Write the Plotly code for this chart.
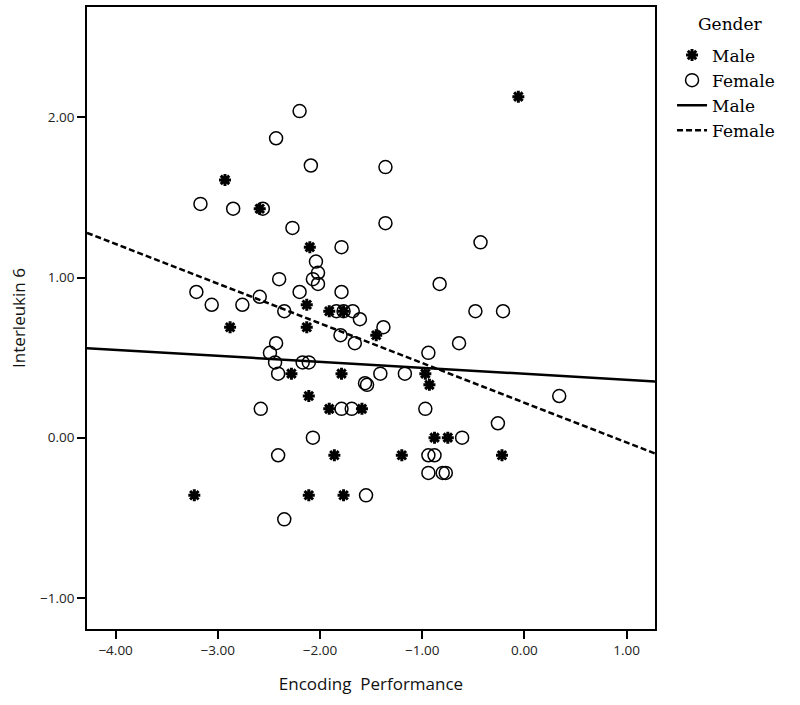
import plotly.graph_objects as go

# Male (asterisk) data
male_x = [-0.06, -2.93, -2.59, -2.10, -2.88, -2.13, -2.13, -1.91, -1.77, -1.45,
          -2.28, -1.79, -2.11, -1.91, -1.59, -0.97, -0.93, -1.86, -3.23, -2.11,
          -1.77, -0.88, -0.75, -1.20, -0.22]
male_y = [2.13, 1.61, 1.43, 1.19, 0.69, 0.83, 0.69, 0.79, 0.79, 0.64,
          0.40, 0.40, 0.26, 0.18, 0.18, 0.40, 0.33, -0.11, -0.36, -0.36,
          -0.36, 0.00, 0.00, -0.11, -0.11]

# Female (open circle) data
female_x = [-2.20, -2.43, -2.09, -3.17, -2.85, -2.56, -2.27, -1.79, -1.36, -1.36,
            -0.43, -2.04, -2.02, -2.07, -2.02, -2.40, -3.21, -3.06, -2.76, -2.59,
            -2.20, -1.79, -2.35, -1.84, -1.77, -1.68, -1.61, -1.80, -1.66, -2.43,
            -2.49, -2.44, -2.41, -2.17, -2.11, -1.56, -1.54, -1.41, -2.58, -1.79,
            -1.69, -2.07, -0.83, -0.48, -0.21, -1.38, -0.64, -0.94, -1.17, 0.34,
            -0.97, -0.26, -0.61, -2.41, -2.35, -0.94, -0.88, -0.94, -0.80, -0.77,
            -1.55]
female_y = [2.04, 1.87, 1.70, 1.46, 1.43, 1.43, 1.31, 1.19, 1.69, 1.34,
            1.22, 1.10, 1.03, 0.99, 0.96, 0.99, 0.91, 0.83, 0.83, 0.88,
            0.91, 0.91, 0.79, 0.79, 0.79, 0.79, 0.74, 0.64, 0.59, 0.59,
            0.53, 0.47, 0.40, 0.47, 0.47, 0.34, 0.33, 0.40, 0.18, 0.18,
            0.18, 0.00, 0.96, 0.79, 0.79, 0.69, 0.59, 0.53, 0.40, 0.26,
            0.18, 0.09, 0.00, -0.11, -0.51, -0.11, -0.11, -0.22, -0.22, -0.22,
            -0.36]

# Fit line coefficients (intercept, slope)
fit_names = ["Male", "Female"]
fit_intercept = [0.399, 0.218]
fit_slope = [-0.0374, -0.248]

x_range = [-4.28, 1.277]
y_range = [-1.195, 2.69]
x_ticks = [-4, -3, -2, -1, 0, 1]
y_ticks = [-1, 0, 1, 2]

fig = go.Figure()

fig.add_trace(go.Scatter(
    x=male_x, y=male_y, mode="markers", name="Male",
    marker=dict(symbol="asterisk-open", size=10, color="black",
                line=dict(width=3, color="black")),
))
fig.add_trace(go.Scatter(
    x=female_x, y=female_y, mode="markers", name="Female",
    marker=dict(symbol="circle-open", size=13, color="black",
                line=dict(width=1.5, color="black")),
))

dashes = ["solid", "6px,3px"]
for name, b0, b1, d in zip(fit_names, fit_intercept, fit_slope, dashes):
    xs = x_range
    ys = [b0 + b1 * v for v in xs]
    fig.add_trace(go.Scatter(
        x=xs, y=ys, mode="lines", name=name,
        line=dict(color="black", width=2.5, dash=d),
    ))

axis_common = dict(
    showline=True, linecolor="black", linewidth=1.5, mirror=True,
    ticks="outside", ticklen=8, tickwidth=1.5, tickcolor="black",
    showgrid=False, zeroline=False, tickformat=".2f",
    tickfont=dict(family="Open Sans", size=13.5, color="#222"),
)

fig.update_layout(
    width=800, height=705,
    margin=dict(l=87, r=145, t=5, b=76),
    paper_bgcolor="white", plot_bgcolor="white",
    xaxis=dict(range=x_range, tickvals=x_ticks, **axis_common,
               title=dict(text="Encoding  Performance", standoff=20,
                          font=dict(family="Open Sans", size=17, color="#111"))),
    yaxis=dict(range=y_range, tickvals=y_ticks, **axis_common,
               title=dict(text="Interleukin 6", standoff=10,
                          font=dict(family="Open Sans", size=17, color="#111"))),
    legend=dict(x=1.03, xanchor="left", y=0.951, yanchor="top",
                font=dict(family="DejaVu Serif", size=17, color="black"),
                bgcolor="rgba(0,0,0,0)", tracegroupgap=0, itemwidth=30),
    showlegend=True,
)
fig.add_annotation(text="Gender", xref="paper", yref="paper",
                   x=(696 - 87) / 568, y=(705 - 76 - 22) / 624,
                   xanchor="left", yanchor="middle", showarrow=False,
                   font=dict(family="DejaVu Serif", size=17, color="black"))

fig.write_html("out.html", config={"displayModeBar": False},
               post_script="document.body.style.margin='0px';")
